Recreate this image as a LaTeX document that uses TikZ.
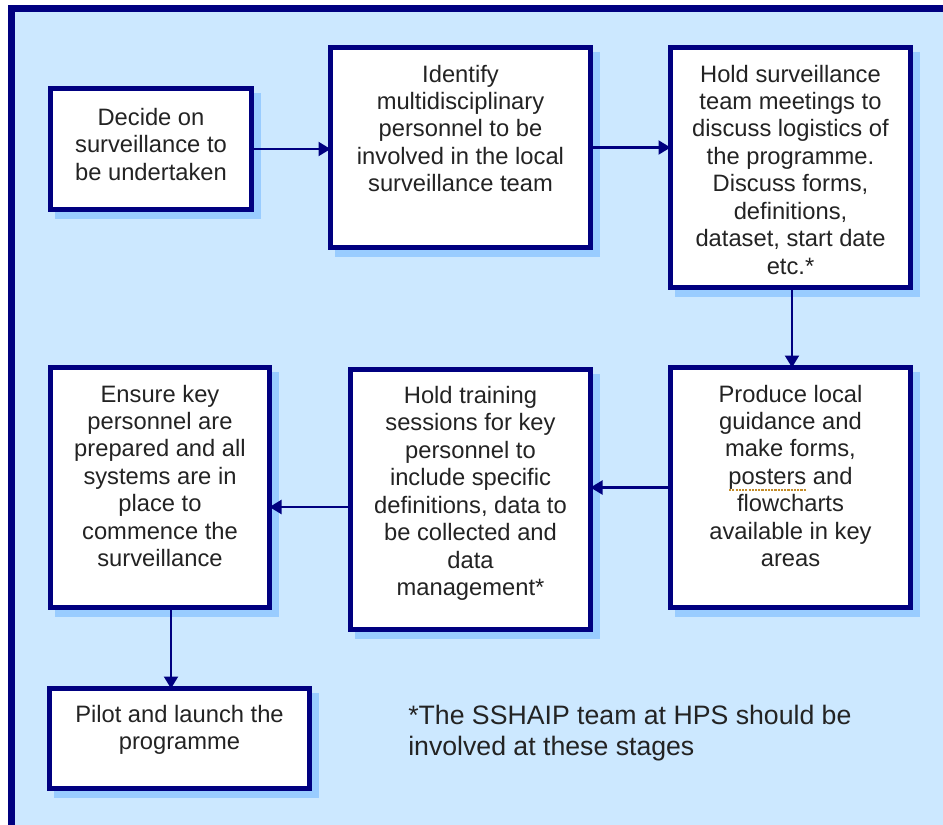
\documentclass[tikz,border=0pt]{standalone}
\usepackage{fontspec}
\setmainfont{Liberation Sans}
\usetikzlibrary{arrows.meta,calc}
\definecolor{navy}{RGB}{0,0,128}
\definecolor{bgblue}{RGB}{204,232,255}
\definecolor{shblue}{RGB}{153,204,255}
\definecolor{txtc}{RGB}{35,35,35}
\definecolor{sqc}{RGB}{195,140,40}
\newcommand\spellmark[1]{\leavevmode\setbox0\hbox{#1}\rlap{\raisebox{-4.6pt}{\color{sqc}\hbox to \wd0{\xleaders\hbox to 2.4pt{\hss\rule{1.6pt}{1.4pt}\hss}\hfil}}}#1}
\tikzset{
  stepbox/.style={draw=navy, line width=3.75pt, fill=white, inner sep=0pt, outer sep=0pt,
    text=txtc, font=\fontsize{17.8pt}{20.6pt}\selectfont},
  arr/.style={draw=navy, line width=1.6pt, -{Triangle[length=9pt,width=10.5pt]}},
  foot/.style={text=txtc, inner sep=0pt, align=left, font=\fontsize{20pt}{23.25pt}\selectfont}
}
% name, x0, y0, x1, y1 (border centre line, px), top pad, text
\newcommand\flowbox[7]{%
  \fill[shblue] ({#2+4.5},{#3+4.5}) rectangle ({#4+9.5},{#5+9.5});
  \pgfmathsetlengthmacro\bw{(#4-#2)*0.75pt}%
  \pgfmathsetlengthmacro\bh{(#5-#3)*0.75pt}%
  \node[stepbox] (#1) at ({(#2+#4)/2},{(#3+#5)/2})
    {\parbox[c][\bh][t]{\bw}{\centering\vspace*{#6}#7\par}};
}
\begin{document}
\begin{tikzpicture}[x=0.75pt, y=-0.75pt]
\useasboundingbox (0,0) rectangle (943,825);
\clip (0,0) rectangle (943,825);
\fill[white] (0,0) rectangle (943,825);
\draw[navy, line width=5.25pt, fill=bgblue] (11.5,8.5) rectangle (980,860);

\flowbox{b1}{50.5}{88.5}{251.5}{209.5}{14.6pt}{Decide on\\surveillance to\\be undertaken}
\flowbox{b2}{330.5}{47.5}{590.5}{247.5}{13pt}{Identify\\multidisciplinary\\personnel to be\\involved in the local\\surveillance team}
\flowbox{b3}{670.5}{47.5}{910.5}{287.5}{13pt}{Hold surveillance\\team meetings to\\discuss logistics of\\the programme.\\Discuss forms,\\definitions,\\dataset, start date\\etc.*}
\flowbox{b4}{670.5}{367.5}{910.5}{607.5}{13pt}{Produce local\\guidance and\\make forms,\\\spellmark{posters} and\\flowcharts\\available in key\\areas}
\flowbox{b5}{350.5}{369.5}{590.5}{629.5}{12.6pt}{Hold training\\sessions for key\\personnel to\\include specific\\definitions, data to\\be collected and\\data\\management*}
\flowbox{b6}{50.5}{367.5}{269.5}{607.5}{13pt}{Ensure key\\personnel are\\prepared and all\\systems are in\\place to\\commence the\\surveillance}
\flowbox{b7}{49.5}{688.5}{309.5}{788.5}{12.4pt}{Pilot and launch the\\programme}

\node[foot, anchor=north west] (note) at (408,704.5) {*The SSHAIP team at HPS should be\\involved at these stages};

\coordinate (s5) at ($(b5.west)+(0,7.5)$);
\coordinate (s6) at ($(b6.south)+(11,0)$);
\coordinate (s3) at ($(b3.south)+(1.5,0)$);
\draw[arr] (b1.east) -- (b1.east -| b2.west);
\draw[arr] (b2.east) -- (b2.east -| b3.west);
\draw[arr] (s3) -- (s3 |- b4.north);
\draw[arr] (b4.west) -- (b4.west -| b5.east);
\draw[arr] (s5) -- (s5 -| b6.east);
\draw[arr] (s6) -- (s6 |- b7.north);
\end{tikzpicture}
\end{document}
